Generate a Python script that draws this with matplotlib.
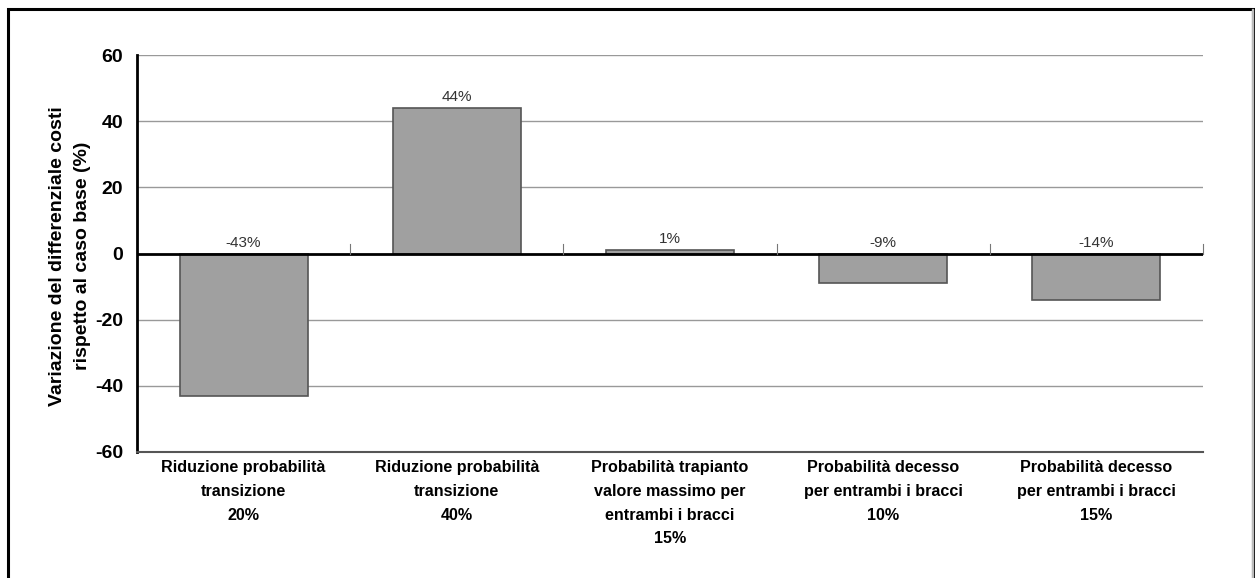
import matplotlib.pyplot as plt
from matplotlib.patches import Rectangle

categorie = [
    "Riduzione probabilità\ntransizione\n20%",
    "Riduzione probabilità\ntransizione\n40%",
    "Probabilità trapianto\nvalore massimo per\nentrambi i bracci\n15%",
    "Probabilità decesso\nper entrambi i bracci\n10%",
    "Probabilità decesso\nper entrambi i bracci\n15%",
]
variazione = [-43, 44, 1, -9, -14]
etichette = ["-43%", "44%", "1%", "-9%", "-14%"]
yticks = [-60, -40, -20, 0, 20, 40, 60]

plt.rcParams['font.family'] = ['Liberation Sans', 'DejaVu Sans']

fig = plt.figure(figsize=(12.55, 5.78), dpi=100)
ax = fig.add_axes([137 / 1255, 1 - 452 / 578, (1203 - 137) / 1255, (452 - 55) / 578])

x = list(range(len(variazione)))
ax.bar(x, variazione, width=0.6, color='#a0a0a0', edgecolor='#555555', linewidth=1.2, zorder=3)

# etichette sopra la linea dello zero (o sopra la barra se positiva)
for xi, v, t in zip(x, variazione, etichette):
    ypos = max(v, 0) + 1.2
    ax.text(xi, ypos, t, ha='center', va='bottom', fontsize=11, color='#333333')

ax.set_xlim(-0.5, len(variazione) - 0.5)
ax.set_ylim(-60, 60)
ax.set_yticks(yticks)
ax.set_yticklabels([str(v) for v in yticks], fontsize=14, fontweight='bold')
ax.tick_params(axis='y', length=0, pad=10)

ax.set_xticks(x)
ax.set_xticklabels(categorie, fontsize=11.6, fontweight='bold', linespacing=1.72, va='top')
ax.tick_params(axis='x', length=0, pad=6)

for g in [-40, -20, 20, 40, 60]:
    ax.axhline(g, color='#999999', linewidth=1, zorder=1)
ax.axhline(0, color='black', linewidth=2, zorder=4)

# piccole tacche di separazione sulla linea dello zero
for b in [0.5, 1.5, 2.5, 3.5, 4.5]:
    ax.plot([b, b], [0, 3], color='#777777', linewidth=0.8, zorder=4, clip_on=False)

for s in ['top', 'right']:
    ax.spines[s].set_visible(False)
ax.spines['left'].set_linewidth(2)
ax.spines['left'].set_color('black')
ax.spines['bottom'].set_linewidth(1.5)
ax.spines['bottom'].set_color('#555555')

fig.text(70 / 1255, 1 - 256 / 578,
         "Variazione del differenziale costi\nrispetto al caso base (%)",
         rotation=90, ha='center', va='center', multialignment='center',
         fontsize=14, fontweight='bold', linespacing=1.55)

# cornice esterna
fig.patches.append(Rectangle((8 / 1255, -0.01), 1245 / 1255, 1 - 9 / 578 + 0.01,
                             transform=fig.transFigure, fill=False,
                             edgecolor='black', linewidth=2.2))
fig.patches.append(Rectangle((1252 / 1255, 0), 0.001, 1 - 9 / 578,
                             transform=fig.transFigure, color='#bbbbbb'))

fig.savefig('out.png', dpi=100, facecolor='white')
